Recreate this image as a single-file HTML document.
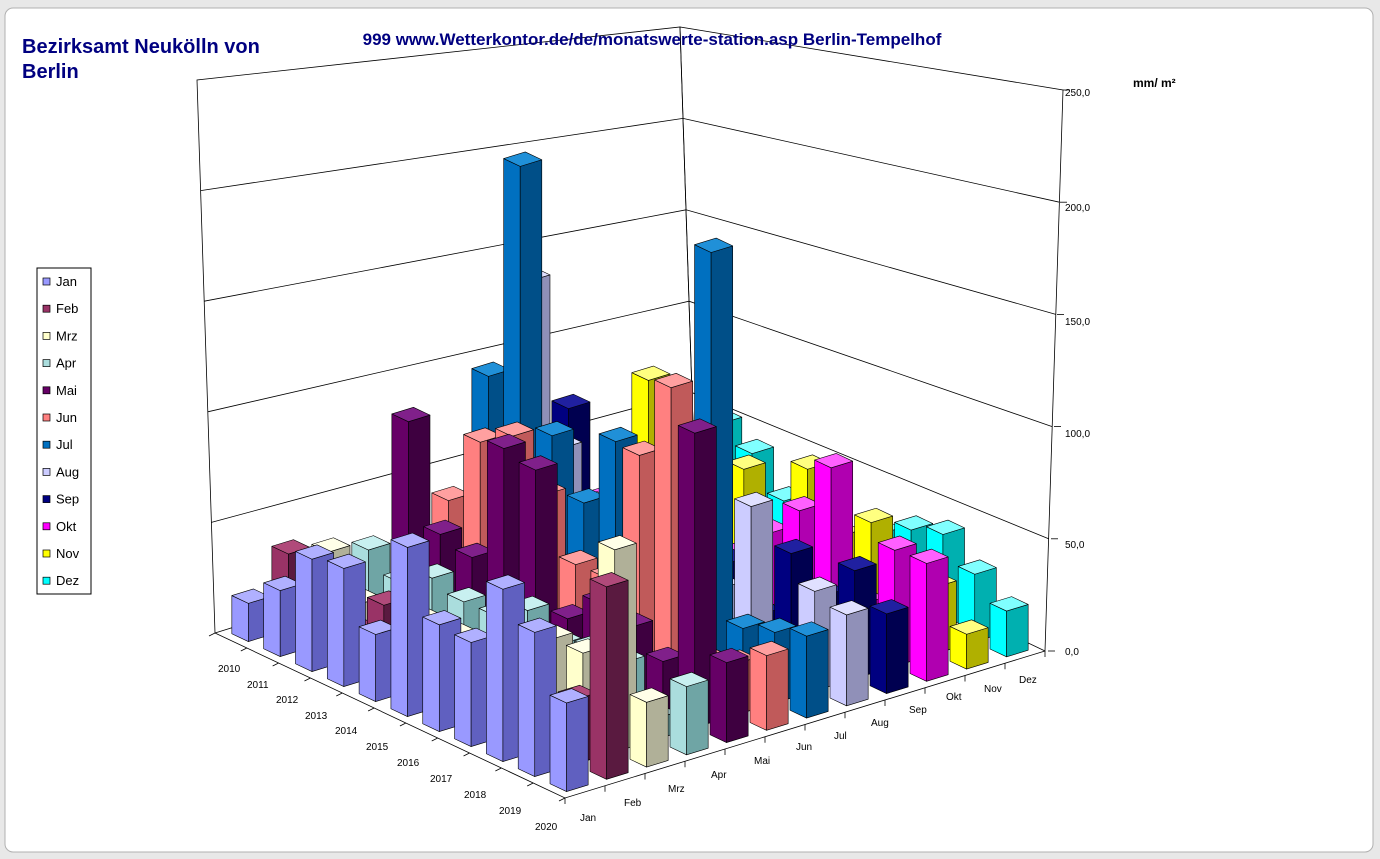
<!DOCTYPE html>
<html><head><meta charset="utf-8">
<style>
html,body{margin:0;padding:0;background:#fff;}
body{width:1380px;height:859px;overflow:hidden;position:relative;font-family:"Liberation Sans",Arial,sans-serif;}
svg{position:absolute;left:0;top:0;}
</style></head>
<body>
<svg id="s" width="1380" height="859" xmlns="http://www.w3.org/2000/svg">
<rect x="0" y="0" width="1380" height="859" fill="#e8e8e8"/>
<rect x="5" y="8" width="1368" height="844" rx="8" fill="#fff" stroke="#b0b0b0"/>
<g id="walls" fill="none" stroke="#000" stroke-width="0.8"></g>
<g id="bars" stroke="#000" stroke-width="0.6" stroke-linejoin="round"></g>
<g font-size="10" fill="#000">
<text x="1065" y="96">250,0</text><text x="1065" y="211">200,0</text><text x="1065" y="325">150,0</text>
<text x="1065" y="437">100,0</text><text x="1065" y="548">50,0</text><text x="1065" y="655">0,0</text>
<text x="218" y="672">2010</text><text x="247" y="688">2011</text><text x="276" y="703">2012</text>
<text x="305" y="719">2013</text><text x="335" y="734">2014</text><text x="366" y="750">2015</text>
<text x="397" y="766">2016</text><text x="430" y="782">2017</text><text x="464" y="798">2018</text>
<text x="499" y="814">2019</text><text x="535" y="830">2020</text>
<text x="580" y="821">Jan</text><text x="624" y="806">Feb</text><text x="668" y="792">Mrz</text>
<text x="711" y="778">Apr</text><text x="754" y="764">Mai</text><text x="796" y="750">Jun</text>
<text x="834" y="739">Jul</text><text x="871" y="726">Aug</text><text x="909" y="713">Sep</text>
<text x="946" y="700">Okt</text><text x="984" y="692">Nov</text><text x="1019" y="683">Dez</text>
</g>
<text x="1133" y="87" font-size="12" font-weight="bold">mm/  m²</text>
<text x="22" y="53" font-size="20" font-weight="bold" fill="#000080">Bezirksamt Neukölln von</text>
<text x="22" y="78" font-size="20" font-weight="bold" fill="#000080">Berlin</text>
<text x="652" y="45" font-size="17" font-weight="bold" fill="#000080" text-anchor="middle">999 www.Wetterkontor.de/de/monatswerte-station.asp Berlin-Tempelhof</text>
<g id="legend"><rect x="37" y="268" width="54" height="326" fill="#fff" stroke="#000"/></g>
</svg>
<script>
var NS="http://www.w3.org/2000/svg";
function el(p,t,a){var e=document.createElementNS(NS,t);for(var k in a)e.setAttribute(k,a[k]);p.appendChild(e);return e;}
var F=[565,798],L=[215,633],R=[1045,651],B=[695,484];
function P(u,v){return [F[0]+u*(L[0]-F[0])+v*(R[0]-F[0]),F[1]+u*(L[1]-F[1])+v*(R[1]-F[1])];}
function S(u,v){return 2.61-0.39*(u+v);}
var W=document.getElementById('walls');
var Lt=[197,80],Bt=[680,27],Rt=[1063,90];
el(W,'polygon',{points:[L,B,Bt,Lt].join(' ')});
el(W,'polygon',{points:[B,R,Rt,Bt].join(' ')});
for(var k=1;k<=4;k++){var f=k/5;
 var a=[L[0]+(Lt[0]-L[0])*f,L[1]+(Lt[1]-L[1])*f],b=[B[0]+(Bt[0]-B[0])*f,B[1]+(Bt[1]-B[1])*f],c=[R[0]+(Rt[0]-R[0])*f,R[1]+(Rt[1]-R[1])*f];
 el(W,'polyline',{points:[a,b,c].join(' ')});}
el(W,'polyline',{points:[L,F,R].join(' ')});
for(var i=0;i<=11;i++){var p=P(i/11,0);el(W,'line',{x1:p[0],y1:p[1],x2:p[0]-6,y2:p[1]+3});}
for(var j=0;j<=12;j++){var p=P(0,j/12);el(W,'line',{x1:p[0],y1:p[1],x2:p[0],y2:p[1]+6});}
for(var k=0;k<=5;k++){var y=651-k*112.2;el(W,'line',{x1:1048+k*3,y1:y,x2:1055+k*3,y2:y});}
var cols=[["#9999ff","#6060c0","#b0b0ff"],["#993366","#5a1a40","#b04a7a"],["#ffffcc","#b0b098","#ffffe8"],["#aadddd","#6fa5a5","#c8f0f0"],["#660066","#3e0040","#80208a"],["#ff8080","#c05a5a","#ffa0a0"],["#0070c0","#004f88","#2090d8"],["#ccccff","#9090b8","#e0e0ff"],["#000080","#000050","#2020a0"],["#ff00ff","#b000b0","#ff60ff"],["#ffff00","#b0b000","#ffff80"],["#00ffff","#00b0b0","#80ffff"]];
var D=[[20,40,35,30,95,45,110,160,80,20,85,40],
[34,20,15,20,40,85,235,70,30,15,5,60],
[57,15,10,30,35,95,90,45,35,40,30,50],
[59,35,20,25,100,70,60,30,70,45,55,30],
[33,10,20,25,95,40,100,85,25,20,15,45],
[82,25,10,35,25,40,50,75,30,40,70,20],
[51,30,25,25,40,110,80,30,10,60,40,35],
[49,20,40,30,35,150,215,80,50,90,55,45],
[80,15,40,30,25,20,30,20,35,25,15,50],
[66,30,95,10,142,25,35,50,55,60,35,36],
[40,88,30,32,38,36,40,45,40,60,18,24]];
var list=[];
for(var i=0;i<11;i++)for(var j=0;j<12;j++)list.push([i,j]);
list.sort(function(a,b){var ua=(10.5-a[0])/11+(a[1]+.5)/12,ub=(10.5-b[0])/11+(b[1]+.5)/12;return ub-ua;});
var G=document.getElementById('bars');
list.forEach(function(q){var i=q[0],j=q[1];var u=(10.5-i)/11,v=(j+.5)/12,hu=0.26/11,hv=0.27/12;
 var h=D[i][j]*S(u,v)*0.86;
 var a=P(u-hu,v-hv),b=P(u+hu,v-hv),c=P(u-hu,v+hv),d=P(u+hu,v+hv);
 function up(p){return [p[0],p[1]-h];}
 var c0=cols[j];
 el(G,'polygon',{points:[a,b,up(b),up(a)].join(' '),fill:c0[0]});
 el(G,'polygon',{points:[a,c,up(c),up(a)].join(' '),fill:c0[1]});
 el(G,'polygon',{points:[up(a),up(b),up(d),up(c)].join(' '),fill:c0[2]});
});
var names=["Jan","Feb","Mrz","Apr","Mai","Jun","Jul","Aug","Sep","Okt","Nov","Dez"];
var Lg=document.getElementById('legend');
names.forEach(function(n,k){var y=282+k*27.2;
 el(Lg,'rect',{x:43,y:y-4,width:7,height:7,fill:cols[k][0],stroke:"#000","stroke-width":0.7});
 var t=el(Lg,'text',{x:56,y:y+4,"font-size":"13"});t.textContent=n;});
</script>
</body></html>
